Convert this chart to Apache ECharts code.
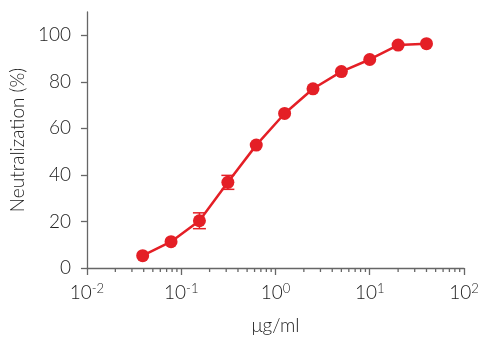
<!DOCTYPE html>
<html>
<head>
<meta charset="utf-8">
<script src="https://cdn.jsdelivr.net/npm/echarts@6/dist/echarts.min.js"></script>
<style>
  html, body { margin: 0; padding: 0; background: #fff; }
  #chart { width: 500px; height: 343px; }
</style>
</head>
<body>
<div id="chart"></div>
<script>
// concentrations (two-fold dilutions), µg/ml
var conc = [0.039, 0.078, 0.156, 0.3125, 0.625, 1.25, 2.5, 5, 10, 20, 40];
// neutralization (%)
var neut = [5.3, 11.3, 20.3, 36.8, 52.8, 66.4, 77.0, 84.4, 89.6, 95.8, 96.4];
// error (+/-), 0 where hidden behind the marker
var err = [0, 0, 3.4, 3.0, 0, 0, 0, 0, 0, 0, 0];

// minor tick positions on the log axis
var xMinor = [0.02, 0.03, 0.04, 0.05, 0.06, 0.07, 0.08, 0.09,
	0.2, 0.3, 0.4, 0.5, 0.6, 0.7, 0.8, 0.9,
	2, 3, 4, 5, 6, 7, 8, 9,
	20, 30, 40, 50, 60, 70, 80, 90];
var yTicks = [0, 20, 40, 60, 80, 100];

var red = '#e41f26';
var axisColor = '#666666';
var textColor = '#222222';
var fontFamily = 'Lato';

var pts = [];
var errs = [];
for (var i = 0; i < conc.length; i++) {
	pts.push([conc[i], neut[i]]);
	if (err[i] > 0) {
		errs.push([conc[i], neut[i] - err[i], neut[i] + err[i]]);
	}
}
var minorData = [];
for (var j = 0; j < xMinor.length; j++) {
	minorData.push([xMinor[j], 0]);
}

var myChart = echarts.init(document.getElementById('chart'));

var option = {
	animation: false,
	grid: {
		left: 82,
		right: 36,
		top: 12,
		bottom: 75
	},
	xAxis: {
		type: 'log',
		logBase: 10,
		min: 0.01,
		max: 100,
		name: 'μg/ml',
		nameLocation: 'middle',
		nameGap: 48,
		nameTextStyle: {
			color: textColor,
			fontFamily: fontFamily,
			fontWeight: 300,
			fontSize: 19
		},
		axisLine: { lineStyle: { color: axisColor, width: 1.3 } },
		axisTick: {
			show: true,
			length: 7,
			lineStyle: { color: axisColor, width: 1.3 }
		},
		axisLabel: {
			margin: 14,
			formatter: function (v) {
				var e = Math.round(Math.log(v) / Math.LN10);
				return '{b|10}{s|' + e + '}';
			},
			rich: {
				b: { fontSize: 19, fontFamily: fontFamily, fontWeight: 300, color: textColor, lineHeight: 22 },
				s: { fontSize: 13, fontFamily: fontFamily, fontWeight: 300, color: textColor, verticalAlign: 'top', padding: [0, 0, 6, 0] }
			}
		},
		splitLine: { show: false }
	},
	yAxis: {
		type: 'value',
		min: 0,
		max: 110,
		name: 'Neutralization (%)',
		nameLocation: 'middle',
		nameGap: 48,
		nameTextStyle: {
			color: textColor,
			fontFamily: fontFamily,
			fontWeight: 300,
			fontSize: 19
		},
		axisLine: { show: true, lineStyle: { color: axisColor, width: 1.3 } },
		axisTick: {
			show: true,
			length: 6,
			customValues: yTicks,
			lineStyle: { color: axisColor, width: 1.3 }
		},
		axisLabel: {
			margin: 16,
			customValues: yTicks,
			color: textColor,
			fontFamily: fontFamily,
			fontWeight: 300,
			fontSize: 19
		},
		splitLine: { show: false }
	},
	series: [
		{
			// minor ticks of the log axis
			type: 'custom',
			data: minorData,
			silent: true,
			clip: false,
			renderItem: function (params, api) {
				var p = api.coord([api.value(0), api.value(1)]);
				return {
					type: 'line',
					shape: { x1: p[0], y1: p[1], x2: p[0], y2: p[1] + 4 },
					style: { stroke: axisColor, lineWidth: 1.3 }
				};
			}
		},
		{
			type: 'custom',
			data: errs,
			z: 1,
			renderItem: function (params, api) {
				var x = api.value(0);
				var lo = api.coord([x, api.value(1)]);
				var hi = api.coord([x, api.value(2)]);
				var w = 6.5;
				var st = { stroke: red, lineWidth: 1.5 };
				return {
					type: 'group',
					children: [
						{ type: 'line', shape: { x1: lo[0], y1: lo[1], x2: hi[0], y2: hi[1] }, style: st },
						{ type: 'line', shape: { x1: lo[0] - w, y1: lo[1], x2: lo[0] + w, y2: lo[1] }, style: st },
						{ type: 'line', shape: { x1: hi[0] - w, y1: hi[1], x2: hi[0] + w, y2: hi[1] }, style: st }
					]
				};
			}
		},
		{
			type: 'line',
			data: pts,
			z: 2,
			symbol: 'circle',
			symbolSize: 13,
			lineStyle: { color: red, width: 2.5 },
			itemStyle: { color: red }
		}
	]
};

myChart.setOption(option);
</script>
</body>
</html>
